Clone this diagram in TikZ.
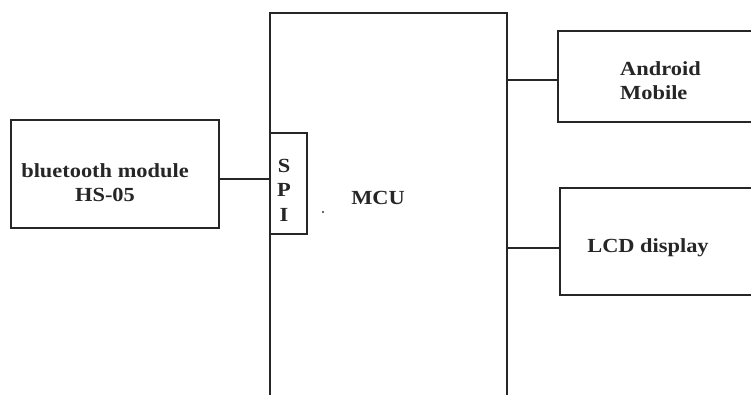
\documentclass[tikz,border=0pt]{standalone}
\usepackage{fontspec}
\setmainfont{Liberation Serif}
\begin{document}
\begin{tikzpicture}[x=1pt,y=-1pt,
  line/.style={draw=black!85,line width=1.4pt},
  lbl/.style={font=\fontsize{20}{24}\selectfont\bfseries,text=black!85,align=center,inner sep=0pt,xscale=1.12}]
\useasboundingbox (0,0) rectangle (751,394);
% bluetooth module
\draw[line] (11,120) rectangle (219,228);
\node[lbl] (bt) at (105,183) {bluetooth module\\HS-05};
\coordinate (btE) at (219,179);
% MCU (open at bottom, cropped)
\draw[line] (270,396) -- (270,13) -- (507,13) -- (507,396);
\coordinate (mcuW) at (270,179);
\coordinate (mcuA) at (507,80);
\coordinate (mcuL) at (507,248);
\node[lbl] (mcu) at (378,198) {MCU};
\fill[black!80] (323,212) circle (1.2);
% SPI
\draw[line] (270,133) rectangle (307,234);
\node[lbl,font=\fontsize{20}{24.5}\selectfont\bfseries] (spi) at (284,190) {S\\P\\I};
% Android Mobile
\draw[line] (753,31) -- (558,31) -- (558,122) -- (753,122);
\coordinate (andW) at (558,80);
\node[lbl,align=left,anchor=west] (and) at (620,81) {Android\\Mobile};
% LCD display
\draw[line] (753,188) -- (560,188) -- (560,295) -- (753,295);
\coordinate (lcdW) at (560,248);
\node[lbl] (lcd) at (648,248) {LCD display};
% connectors
\draw[line] (btE) -- (mcuW);
\draw[line] (mcuA) -- (andW);
\draw[line] (mcuL) -- (lcdW);
\end{tikzpicture}
\end{document}
